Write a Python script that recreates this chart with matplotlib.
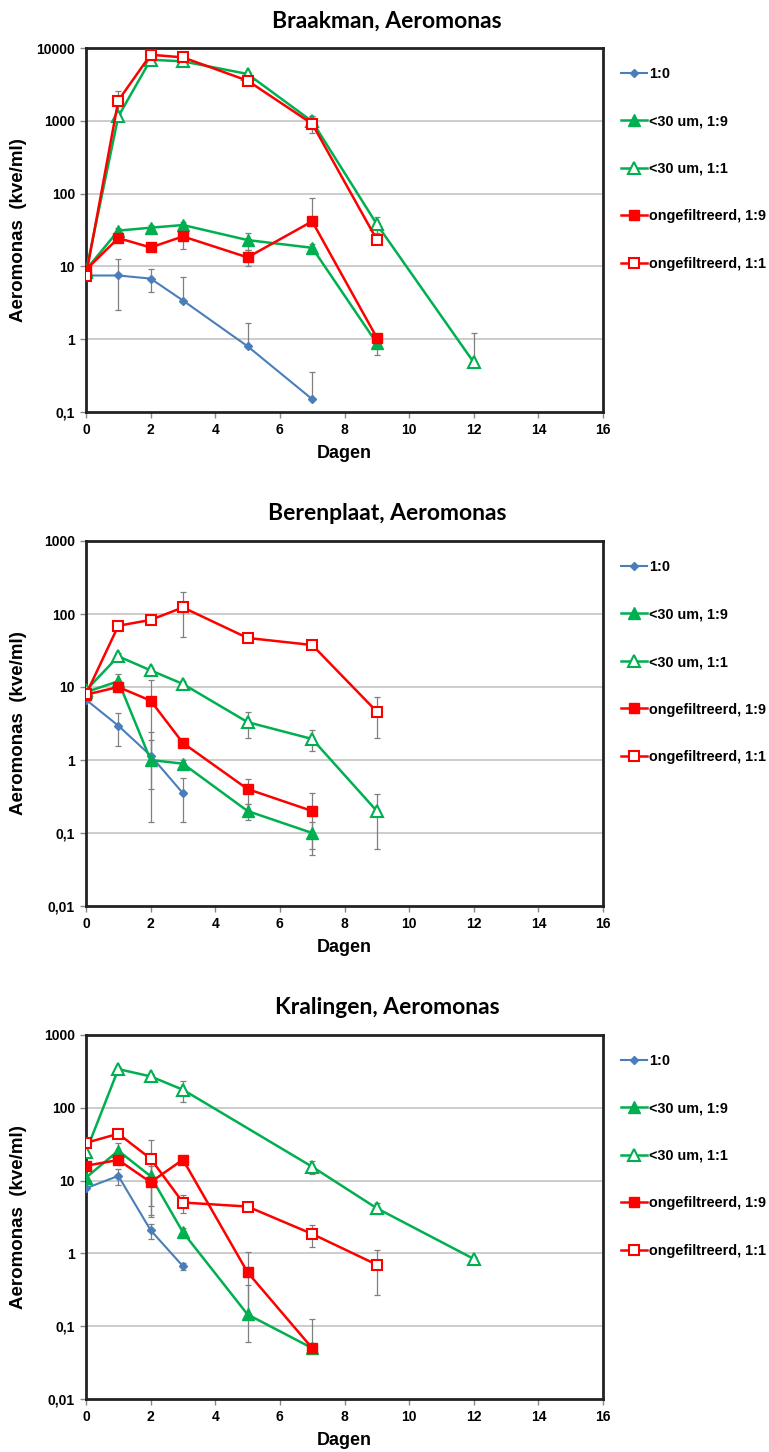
import matplotlib
matplotlib.use("Agg")
import matplotlib.pyplot as plt
import numpy as np

plt.rcParams['font.family'] = ['Liberation Sans', 'DejaVu Sans']
plt.rcParams['font.weight'] = 'bold'

# series labels (legend order)
labels = ["1:0", "<30 um, 1:9", "<30 um, 1:1", "ongefiltreerd, 1:9", "ongefiltreerd, 1:1"]
titles = ["Braakman, Aeromonas", "Berenplaat, Aeromonas", "Kralingen, Aeromonas"]

# Braakman
bra_x = [[0, 1, 2, 3, 5, 7],
         [0, 1, 2, 3, 5, 7, 9],
         [0, 1, 2, 3, 5, 7, 9, 12],
         [0, 1, 2, 3, 5, 7, 9],
         [0, 1, 2, 3, 5, 7, 9]]
bra_y = [[7.5, 7.5, 6.8, 3.4, 0.8, 0.15],
         [9, 31, 34, 37, 23, 18, 0.88],
         [8.5, 1150, 6900, 6550, 4400, 980, 38, 0.48],
         [9, 24.5, 18.2, 25.8, 13.3, 41.6, 1.05],
         [7.4, 1900, 8080, 7430, 3560, 910, 23.3]]
bra_err = [[0, 5, 2.4, 3.7, 0.87, 0.21],
           [0, 3, 3, 4, 6, 2, 0.27],
           [0, 100, 300, 600, 300, 170, 9, 0.73],
           [0, 3, 2, 8.5, 3.3, 45, 0.1],
           [0, 630, 400, 1500, 200, 240, 3]]

# Berenplaat
ber_x = [[0, 1, 2, 3],
         [0, 1, 2, 3, 5, 7],
         [0, 1, 2, 3, 5, 7, 9],
         [0, 1, 2, 3, 5, 7],
         [0, 1, 2, 3, 5, 7, 9]]
ber_y = [[6.7, 2.95, 1.15, 0.35],
         [8.5, 12, 1.0, 0.89, 0.2, 0.1],
         [9, 26.3, 16.9, 11, 3.3, 1.94, 0.2],
         [7.85, 10, 6.5, 1.71, 0.4, 0.2],
         [7.9, 69, 83, 123, 47, 37.6, 4.6]]
ber_err = [[0, 1.4, 1.25, 0.21],
           [0, 3.3, 0.86, 0.1, 0.05, 0.04],
           [0, 3, 1.5, 1, 1.3, 0.63, 0.14],
           [0, 1.5, 6.1, 0.15, 0.15, 0.15],
           [0, 5, 5, 75, 3, 3, 2.6]]

# Kralingen
kra_x = [[0, 1, 2, 3],
         [0, 1, 2, 3, 5, 7],
         [0, 1, 2, 3, 7, 9, 12],
         [0, 1, 2, 3, 5, 7],
         [0, 1, 2, 3, 5, 7, 9]]
kra_y = [[7.86, 11.6, 2.08, 0.667],
         [11, 25.7, 11.5, 1.95, 0.145, 0.05],
         [25, 340, 270, 177, 15.5, 4.17, 0.84],
         [16, 19.2, 9.5, 19.4, 0.55, 0.05],
         [33, 44, 20, 5, 4.4, 1.85, 0.70]]
kra_err = [[0, 3, 0.48, 0.07],
           [0, 7, 7, 0.3, 0.22, 0],
           [0, 20, 20, 55, 3.3, 0.7, 0.05],
           [0, 2, 6.3, 1, 0.49, 0.074],
           [0, 3, 16.6, 1.4, 0.3, 0.63, 0.43]]

xticks = [0, 2, 4, 6, 8, 10, 12, 14, 16]
yticks_p1 = [0.1, 1, 10, 100, 1000, 10000]
ylabels_p1 = ["0,1", "1", "10", "100", "1000", "10000"]
yticks_p23 = [0.01, 0.1, 1, 10, 100, 1000]
ylabels_p23 = ["0,01", "0,1", "1", "10", "100", "1000"]

blue = "#4A7EBB"
green = "#00B050"
red = "#FF0000"
styles = [dict(color=blue, marker="D", ms=4.2, mfc=blue, lw=1.5),
          dict(color=green, marker="^", ms=8, mfc=green, lw=1.8),
          dict(color=green, marker="^", ms=8, mfc="white", mew=1.5, lw=1.8),
          dict(color=red, marker="s", ms=7.5, mfc=red, lw=1.8),
          dict(color=red, marker="s", ms=7.5, mfc="white", mew=1.5, lw=1.8)]

W, H = 769, 1452
fig = plt.figure(figsize=(W / 100, H / 100), dpi=100)

panels = [(bra_x, bra_y, bra_err, yticks_p1, ylabels_p1, 48, 412),
          (ber_x, ber_y, ber_err, yticks_p23, ylabels_p23, 541, 906),
          (kra_x, kra_y, kra_err, yticks_p23, ylabels_p23, 1035, 1399)]

for i, (xs, ys, es, yt, yl, top, bot) in enumerate(panels):
    ax = fig.add_axes([86 / W, 1 - bot / H, (603 - 86) / W, (bot - top) / H])
    ax.set_yscale("log")
    for gy in yt[1:-1]:
        ax.axhline(gy, color="#c8c8c8", lw=1.3, zorder=0)
    for x, y, e, lab, st in zip(xs, ys, es, labels, styles):
        x = np.array(x); y = np.array(y, dtype=float); e = np.array(e, dtype=float)
        lower = np.where(e < y, e, 0)
        ax.errorbar(x, y, yerr=[lower, e], fmt="none", ecolor="#7f7f7f",
                    elinewidth=0.9, capsize=2.5, capthick=0.9, zorder=2)
        ax.plot(x, y, label=lab, zorder=3, **st)
    ax.set_xlim(0, 16)
    ax.set_ylim(yt[0], yt[-1])
    ax.set_xticks(xticks)
    ax.set_xticklabels([str(t) for t in xticks], fontsize=10, fontweight="bold")
    ax.set_yticks(yt)
    ax.set_yticklabels(yl, fontsize=10, fontweight="bold")
    ax.minorticks_off()
    ax.tick_params(axis="both", length=4, width=1, color="#888888", pad=4)
    for sp in ax.spines.values():
        sp.set_linewidth(2)
        sp.set_color("#222222")
    ax.set_ylabel("Aeromonas  (kve/ml)", fontsize=13.5, fontweight="bold")
    ax.yaxis.set_label_coords(-0.115, 0.5)
    ax.set_xlabel("Dagen", fontsize=13, fontweight="bold", labelpad=6)
    fig.text(387 / W, 1 - (top - 27) / H, titles[i], ha="center", va="center",
             fontsize=16.5, fontweight="bold", family=["Lato", "DejaVu Sans"])
    ax.legend(loc="upper left", bbox_to_anchor=(1.034, 0.948), frameon=False,
              prop=dict(weight="bold", size=10.4), handlelength=1.8,
              handletextpad=0.15, labelspacing=2.32, borderpad=0, borderaxespad=0)

fig.savefig("out.png", dpi=100)
